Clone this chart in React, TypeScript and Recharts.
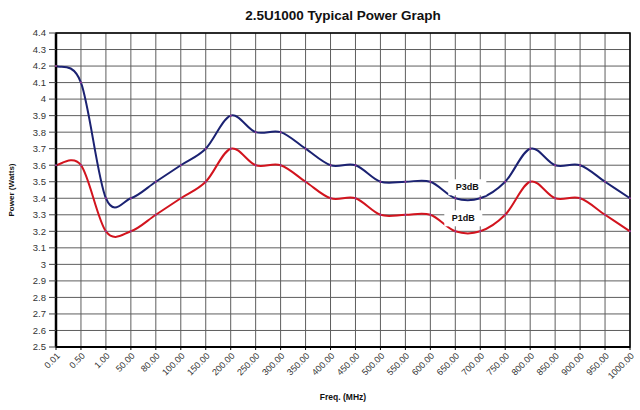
import React from 'react';
import { LineChart, Line, XAxis, YAxis, CartesianGrid, LabelList, ReferenceArea } from 'recharts';

const categories = ['0.01', '0.50', '1.00', '50.00', '80.00', '100.00', '150.00', '200.00', '250.00', '300.00', '350.00', '400.00', '450.00', '500.00', '550.00', '600.00', '650.00', '700.00', '750.00', '800.00', '850.00', '900.00', '950.00', '1000.00'];
const p3dB = [4.2, 4.1, 3.4, 3.4, 3.5, 3.6, 3.7, 3.9, 3.8, 3.8, 3.7, 3.6, 3.6, 3.5, 3.5, 3.5, 3.4, 3.4, 3.5, 3.7, 3.6, 3.6, 3.5, 3.4];
const p1dB = [3.6, 3.6, 3.2, 3.2, 3.3, 3.4, 3.5, 3.7, 3.6, 3.6, 3.5, 3.4, 3.4, 3.3, 3.3, 3.3, 3.2, 3.2, 3.3, 3.5, 3.4, 3.4, 3.3, 3.2];
const yTicks = [2.5, 2.6, 2.7, 2.8, 2.9, 3, 3.1, 3.2, 3.3, 3.4, 3.5, 3.6, 3.7, 3.8, 3.9, 4, 4.1, 4.2, 4.3, 4.4];
const labelCategory = '650.00';

const data = categories.map((c, i) => ({ freq: c, p3dB: p3dB[i], p1dB: p1dB[i] }));
const labelIndex = categories.indexOf(labelCategory);

const FONT = '"Liberation Sans", Arial, sans-serif';

// Catmull-Rom style smoothing similar to Excel's smoothed lines
const smoothCurve = (context: any) => {
  let pts: number[][] = [];
  return {
    areaStart() {},
    areaEnd() {},
    lineStart() {
      pts = [];
    },
    lineEnd() {
      const n = pts.length;
      if (!n) return;
      context.moveTo(pts[0][0], pts[0][1]);
      const t = 1 / 6;
      for (let i = 0; i < n - 1; i++) {
        const p0 = pts[i - 1] || pts[i];
        const p1 = pts[i];
        const p2 = pts[i + 1];
        const p3 = pts[i + 2] || p2;
        context.bezierCurveTo(
          p1[0] + (p2[0] - p0[0]) * t,
          p1[1] + (p2[1] - p0[1]) * t,
          p2[0] - (p3[0] - p1[0]) * t,
          p2[1] - (p3[1] - p1[1]) * t,
          p2[0],
          p2[1]
        );
      }
    },
    point(x: number, y: number) {
      pts.push([+x, +y]);
    },
  };
};

const makeSeriesLabel = (text: string, dx: number, dy: number) => (props: any) => {
  if (props.index !== labelIndex) return null;
  const cx = props.x + dx;
  const cy = props.y + dy;
  return (
    <g>
      <rect x={cx - 19} y={cy - 8} width={38} height={16} fill="#fff" />
      <text x={cx} y={cy + 3} textAnchor="middle" fontFamily={FONT} fontSize={9} fontWeight="bold" fill="#111">
        {text}
      </text>
    </g>
  );
};

const YLabel = (props: any) => {
  const vb = props.viewBox;
  const x = vb.x + 12;
  const y = vb.y + vb.height / 2;
  return (
    <text x={x} y={y} transform={`rotate(-90 ${x} ${y})`} textAnchor="middle" dominantBaseline="middle" fontFamily={FONT} fontSize={8} fontWeight="bold" fill="#111">
      Power (Watts)
    </text>
  );
};

const XLabel = (props: any) => {
  const vb = props.viewBox;
  const x = vb.x + vb.width / 2;
  const y = vb.y + 53;
  return (
    <text x={x} y={y} textAnchor="middle" fontFamily={FONT} fontSize={8.5} fontWeight="bold" fill="#111">
      Freq. (MHz)
    </text>
  );
};

export default function App() {
  return (
    <div style={{ position: 'absolute', left: 0, top: 0, width: 640, height: 410, background: '#fff' }}>
      <div
        style={{
          position: 'absolute',
          left: 0,
          width: 686,
          top: 8,
          textAlign: 'center',
          fontFamily: FONT,
          fontSize: 13.5,
          fontWeight: 'bold',
          color: '#111',
          lineHeight: '16px',
        }}
      >
        2.5U1000 Typical Power Graph
      </div>
      <LineChart width={640} height={410} data={data} margin={{ top: 33, right: 10, bottom: 8, left: 0 }}>
        <CartesianGrid stroke="#5e5e5e" strokeWidth={1} />
        <XAxis
          dataKey="freq"
          interval={0}
          angle={-45}
          textAnchor="end"
          height={55}
          tickSize={3}
          tickMargin={2}
          tick={{ fontFamily: FONT, fontSize: 9, fill: '#333' }}
          axisLine={{ stroke: '#000', strokeWidth: 2 }}
          tickLine={{ stroke: '#000' }}
          label={<XLabel />}
        />
        <YAxis
          type="number"
          domain={[2.5, 4.4]}
          ticks={yTicks}
          interval={0}
          width={56}
          tickSize={7}
          tickMargin={3}
          tickFormatter={(v: number) => String(v)}
          tick={{ fontFamily: FONT, fontSize: 9.5, fill: '#333' }}
          axisLine={{ stroke: '#000', strokeWidth: 2.5 }}
          tickLine={{ stroke: '#444' }}
          label={<YLabel />}
        />
        <ReferenceArea x1={categories[0]} x2={categories[categories.length - 1]} y1={2.5} y2={4.4} fill="none" stroke="#000" strokeWidth={1.5} />
        <Line
          dataKey="p1dB"
          type={smoothCurve as any}
          stroke="#d2141e"
          strokeWidth={2}
          dot={{ r: 1, fill: '#9a3a9a', stroke: 'none' }}
          isAnimationActive={false}
        >
          <LabelList dataKey="p1dB" content={makeSeriesLabel('P1dB', 8, -13)} />
        </Line>
        <Line
          dataKey="p3dB"
          type={smoothCurve as any}
          stroke="#1b2272"
          strokeWidth={2}
          dot={{ r: 1, fill: '#9a3a9a', stroke: 'none' }}
          isAnimationActive={false}
        >
          <LabelList dataKey="p3dB" content={makeSeriesLabel('P3dB', 12, -11)} />
        </Line>
      </LineChart>
    </div>
  );
}
